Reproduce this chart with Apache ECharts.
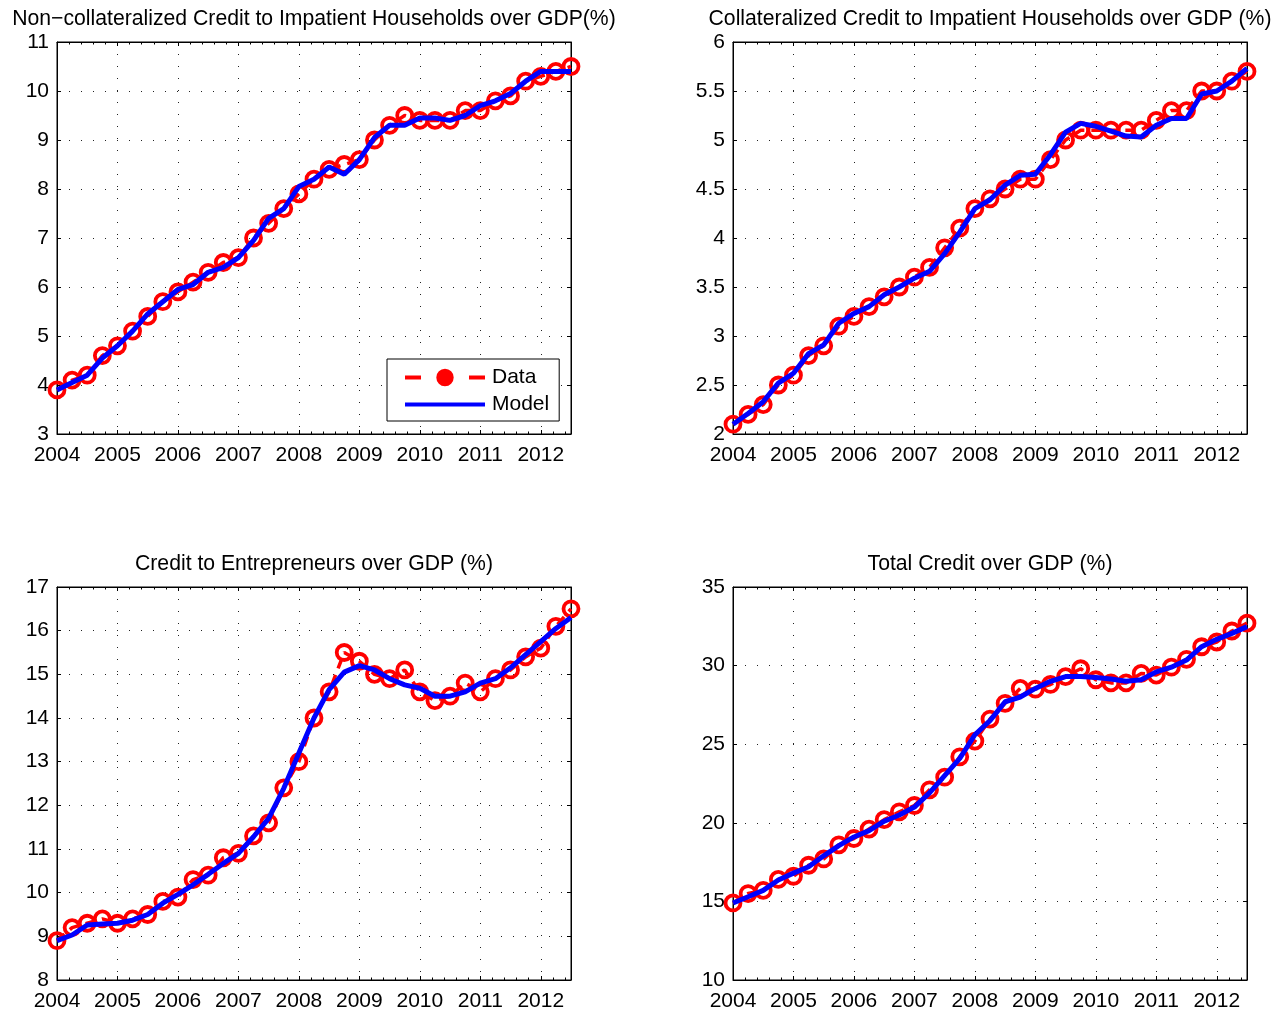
<!DOCTYPE html>
<html>
<head>
<meta charset="utf-8">
<script src="https://cdn.jsdelivr.net/npm/echarts@6/dist/echarts.min.js"></script>
<style>
  html, body { margin: 0; padding: 0; background: #fff; }
  #chart { width: 1288px; height: 1013px; }
</style>
</head>
<body>
<div id="chart"></div>
<script>
// quarterly dates 2004Q1 .. 2012Q3
const quarters = [2004, 2004.25, 2004.5, 2004.75, 2005, 2005.25, 2005.5, 2005.75,
  2006, 2006.25, 2006.5, 2006.75, 2007, 2007.25, 2007.5, 2007.75,
  2008, 2008.25, 2008.5, 2008.75, 2009, 2009.25, 2009.5, 2009.75,
  2010, 2010.25, 2010.5, 2010.75, 2011, 2011.25, 2011.5, 2011.75,
  2012, 2012.25, 2012.5];

const nonCollData = [3.9, 4.1, 4.2, 4.6, 4.8, 5.1, 5.4, 5.7, 5.9, 6.1, 6.3, 6.5, 6.6, 7.0, 7.3, 7.6,
  7.9, 8.2, 8.4, 8.5, 8.6, 9.0, 9.3, 9.5, 9.4, 9.4, 9.4, 9.6, 9.6, 9.8, 9.9, 10.2, 10.3, 10.4, 10.5];
const nonCollModel = [3.9, 4.05, 4.2, 4.55, 4.8, 5.1, 5.45, 5.7, 5.95, 6.05, 6.3, 6.4, 6.6, 6.95, 7.4, 7.6,
  8.05, 8.2, 8.45, 8.3, 8.6, 9.05, 9.3, 9.3, 9.45, 9.45, 9.4, 9.5, 9.7, 9.8, 9.95, 10.2, 10.4, 10.4, 10.4];

const collData = [2.1, 2.2, 2.3, 2.5, 2.6, 2.8, 2.9, 3.1, 3.2, 3.3, 3.4, 3.5, 3.6, 3.7, 3.9, 4.1,
  4.3, 4.4, 4.5, 4.6, 4.6, 4.8, 5.0, 5.1, 5.1, 5.1, 5.1, 5.1, 5.2, 5.3, 5.3, 5.5, 5.5, 5.6, 5.7];
const collModel = [2.1, 2.21, 2.33, 2.52, 2.62, 2.82, 2.91, 3.13, 3.23, 3.3, 3.42, 3.5, 3.59, 3.66, 3.84, 4.06,
  4.3, 4.39, 4.54, 4.64, 4.65, 4.85, 5.08, 5.17, 5.14, 5.09, 5.04, 5.03, 5.15, 5.22, 5.22, 5.47, 5.5, 5.6, 5.73];

const entData = [8.9, 9.2, 9.3, 9.4, 9.3, 9.4, 9.5, 9.8, 9.9, 10.3, 10.4, 10.8, 10.9, 11.3, 11.6, 12.4,
  13.0, 14.0, 14.6, 15.5, 15.3, 15.0, 14.9, 15.1, 14.6, 14.4, 14.5, 14.8, 14.6, 14.9, 15.1, 15.4, 15.6, 16.1, 16.5];
const entModel = [8.9, 9.03, 9.26, 9.28, 9.3, 9.37, 9.5, 9.76, 9.96, 10.18, 10.42, 10.67, 10.9, 11.28, 11.7, 12.39,
  13.2, 14.0, 14.65, 15.05, 15.2, 15.1, 14.9, 14.76, 14.68, 14.5, 14.5, 14.6, 14.8, 14.9, 15.15, 15.45, 15.75, 16.05, 16.3];

const totData = [14.9, 15.5, 15.7, 16.4, 16.6, 17.3, 17.7, 18.6, 19.0, 19.6, 20.2, 20.7, 21.1, 22.1, 22.9, 24.2,
  25.2, 26.6, 27.6, 28.55, 28.5, 28.8, 29.3, 29.8, 29.1, 28.9, 28.9, 29.5, 29.4, 29.9, 30.4, 31.2, 31.5, 32.2, 32.7];
const totModel = [14.9, 15.3, 15.7, 16.36, 16.8, 17.2, 17.9, 18.55, 19.1, 19.5, 20.1, 20.5, 21.0, 21.9, 23.0, 24.1,
  25.6, 26.5, 27.7, 28.0, 28.55, 29.0, 29.3, 29.3, 29.25, 29.15, 29.0, 29.1, 29.6, 29.9, 30.35, 31.2, 31.67, 32.05, 32.48];

const panels = [
  {title: 'Non\u2212collateralized Credit to Impatient Households over GDP(%)', data: nonCollData, model: nonCollModel,
    ymin: 3, ymax: 11, step: 1, left: 57, top: 42, height: 392},
  {title: 'Collateralized Credit to Impatient Households over GDP (%)', data: collData, model: collModel,
    ymin: 2, ymax: 6, step: 0.5, left: 733, top: 42, height: 392},
  {title: 'Credit to Entrepreneurs over GDP (%)', data: entData, model: entModel,
    ymin: 8, ymax: 17, step: 1, left: 57, top: 587, height: 393},
  {title: 'Total Credit over GDP (%)', data: totData, model: totModel,
    ymin: 10, ymax: 35, step: 5, left: 733, top: 587, height: 393}
];

const font = '"Liberation Sans", Arial, Helvetica, sans-serif';
const plotW = 514;

let titles = [], grids = [], xAxes = [], yAxes = [], series = [];

panels.forEach(function (p, i) {
  titles.push({
    text: p.title,
    left: p.left + plotW / 2,
    textAlign: 'center',
    top: p.top - 33,
    padding: 0,
    textStyle: {fontSize: 21.2, fontWeight: 'normal', color: '#000', fontFamily: font}
  });
  grids.push({
    left: p.left, top: p.top, width: plotW, height: p.height,
    show: true, borderColor: '#000', borderWidth: 1, backgroundColor: '#fff'
  });
  // bottom x axis (labels + grid)
  xAxes.push({
    type: 'value', gridIndex: i, position: 'bottom',
    min: 2004, max: 2012.5, interval: 1,
    axisLine: {show: true, lineStyle: {color: '#000', width: 1}},
    axisTick: {show: true, inside: true, length: 4, lineStyle: {color: '#000'}},
    minorTick: {show: true, splitNumber: 5, length: 2.5, lineStyle: {color: '#000'}},
    splitLine: {show: true, lineStyle: {color: '#222', width: 1, type: [1, 11]}},
    axisLabel: {
      fontSize: 21, color: '#000', fontFamily: font, margin: 11,
      formatter: function (v) { return Number.isInteger(v) ? String(v) : ''; }
    }
  });
  // top x axis (ticks only)
  xAxes.push({
    type: 'value', gridIndex: i, position: 'top',
    min: 2004, max: 2012.5, interval: 1,
    axisLine: {show: true, lineStyle: {color: '#000', width: 1}},
    axisTick: {show: true, inside: true, length: 4, lineStyle: {color: '#000'}},
    minorTick: {show: true, splitNumber: 5, length: 2.5, lineStyle: {color: '#000'}},
    splitLine: {show: false},
    axisLabel: {show: false}
  });
  yAxes.push({
    type: 'value', gridIndex: i, position: 'left',
    min: p.ymin, max: p.ymax, interval: p.step,
    axisLine: {show: true, lineStyle: {color: '#000', width: 1}},
    axisTick: {show: true, inside: true, length: 4, lineStyle: {color: '#000'}},
    splitLine: {show: true, lineStyle: {color: '#222', width: 1, type: [1, 11]}},
    axisLabel: {fontSize: 21, color: '#000', fontFamily: font, margin: 8}
  });
  yAxes.push({
    type: 'value', gridIndex: i, position: 'right',
    min: p.ymin, max: p.ymax, interval: p.step,
    axisLine: {show: true, lineStyle: {color: '#000', width: 1}},
    axisTick: {show: true, inside: true, length: 4, lineStyle: {color: '#000'}},
    splitLine: {show: false},
    axisLabel: {show: false}
  });
  series.push({
    name: 'Data', type: 'line', xAxisIndex: i * 2, yAxisIndex: i * 2,
    data: quarters.map(function (q, k) { return [q, p.data[k]]; }),
    symbol: 'circle', symbolSize: 15,
    itemStyle: {color: 'rgba(255,255,255,0)', borderColor: '#ff0000', borderWidth: 3.8},
    lineStyle: {color: '#ff0000', width: 3.5, type: [10, 7]},
    z: 2
  });
  series.push({
    name: 'Model', type: 'line', xAxisIndex: i * 2, yAxisIndex: i * 2,
    data: quarters.map(function (q, k) { return [q, p.model[k]]; }),
    showSymbol: false, symbol: 'none',
    itemStyle: {color: '#0000ff'},
    lineStyle: {color: '#0000ff', width: 5},
    z: 3
  });
});

const chart = echarts.init(document.getElementById('chart'));
chart.setOption({
  animation: false,
  backgroundColor: '#fff',
  title: titles,
  grid: grids,
  xAxis: xAxes,
  yAxis: yAxes,
  series: series,
  legend: {
    data: [
      {name: 'Data', itemStyle: {color: '#ff0000', borderColor: '#ff0000', borderWidth: 3},
        lineStyle: {width: 4, type: [16, 48]}},
      {name: 'Model', itemStyle: {opacity: 0}, lineStyle: {width: 4}}
    ],
    orient: 'vertical',
    left: 387, top: 359,
    itemWidth: 80, itemHeight: 18, itemGap: 6,
    padding: [8, 10, 6, 16],
    borderColor: '#000', borderWidth: 1, backgroundColor: '#fff',
    selectedMode: false,
    textStyle: {fontSize: 21, color: '#000', fontFamily: font, padding: [0, 0, 0, 2]}
  }
});
</script>
</body>
</html>
